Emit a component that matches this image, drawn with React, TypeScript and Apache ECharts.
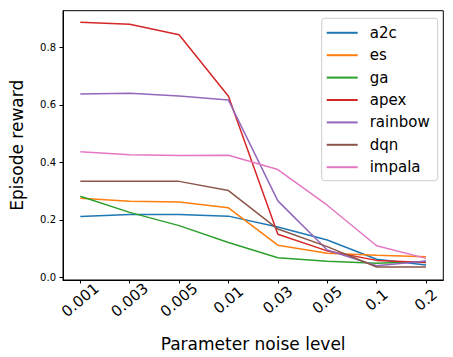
import React, { useEffect, useRef } from "react";
import * as echarts from "echarts";

const categories = ["0.001", "0.003", "0.005", "0.01", "0.03", "0.05", "0.1", "0.2"];
const yTicks = [0, 0.2, 0.4, 0.6, 0.8];

const a2c = [0.212, 0.219, 0.219, 0.213, 0.175, 0.13, 0.063, 0.043];
const es = [0.275, 0.265, 0.262, 0.242, 0.112, 0.084, 0.077, 0.072];
const ga = [0.282, 0.226, 0.18, 0.121, 0.068, 0.056, 0.049, 0.055];
const apex = [0.888, 0.881, 0.844, 0.63, 0.15, 0.092, 0.059, 0.052];
const rainbow = [0.638, 0.641, 0.631, 0.617, 0.266, 0.095, 0.04, 0.057];
const dqn = [0.334, 0.334, 0.334, 0.302, 0.168, 0.107, 0.036, 0.036];
const impala = [0.437, 0.427, 0.424, 0.425, 0.375, 0.251, 0.11, 0.066];

const seriesNames = ["a2c", "es", "ga", "apex", "rainbow", "dqn", "impala"];
const seriesValues = [a2c, es, ga, apex, rainbow, dqn, impala];
const colors = ["#1f77b4", "#ff7f0e", "#2ca02c", "#d62728", "#9467bd", "#8c564b", "#e377c2"];

const FONT = "DejaVu Sans";

export default function App() {
  const ref = useRef<HTMLDivElement>(null);
  useEffect(() => {
    if (!ref.current) return;
    const chart = echarts.init(ref.current, null, { renderer: "svg" });
    const idx = categories.map((_, i) => i);
    chart.setOption({
      animation: false,
      color: colors,
      textStyle: { fontFamily: FONT },
      grid: {
        left: 52.3,
        right: 9.7,
        top: 10.7,
        bottom: 75,
        show: true,
        borderColor: "#000",
        borderWidth: 1,
        backgroundColor: "transparent",
      },
      legend: {
        orient: "vertical",
        left: 321.7,
        top: 18.3,
        data: seriesNames,
        icon: "rect",
        itemWidth: 31,
        itemHeight: 2,
        itemGap: 7.4,
        padding: [7, 8, 6, 5],
        backgroundColor: "rgba(255,255,255,0.8)",
        borderColor: "#ccc",
        borderWidth: 1,
        borderRadius: 3,
        textStyle: {
          fontFamily: FONT,
          fontSize: 15,
          color: "#000",
          padding: [0, 0, 0, 7],
        },
      },
      xAxis: {
        type: "value",
        min: -0.35,
        max: 7.35,
        splitLine: { show: false },
        axisLine: { show: true, onZero: false, lineStyle: { color: "#000", width: 1 } },
        axisTick: { show: true, customValues: idx, length: 3.5, lineStyle: { color: "#000" } },
        axisLabel: {
          customValues: idx,
          formatter: (v: number) => categories[Math.round(v)],
          rotate: 40,
          align: "center",
          verticalAlign: "middle",
          margin: 20,
          fontSize: 15,
          fontFamily: FONT,
          color: "#000",
        },
        name: "Parameter noise level",
        nameLocation: "middle",
        nameGap: 55,
        nameTextStyle: { fontSize: 17, fontFamily: FONT, color: "#000" },
      },
      yAxis: {
        type: "value",
        min: -0.0093,
        max: 0.928,
        splitLine: { show: false },
        axisLine: { show: true, onZero: false, lineStyle: { color: "#000", width: 1 } },
        axisTick: { show: true, customValues: yTicks, length: 3.5, lineStyle: { color: "#000" } },
        axisLabel: {
          customValues: yTicks,
          formatter: (v: number) => v.toFixed(1),
          fontSize: 10,
          margin: 7,
          fontFamily: FONT,
          color: "#000",
        },
        name: "Episode reward",
        nameLocation: "middle",
        nameGap: 38,
        nameRotate: 90,
        nameTextStyle: { fontSize: 17, fontFamily: FONT, color: "#000" },
      },
      series: seriesNames.map((name, s) => ({
        name,
        type: "line",
        symbol: "none",
        lineStyle: { width: 1.5, color: colors[s] },
        itemStyle: { color: colors[s] },
        data: seriesValues[s].map((v, i) => [i, v]),
      })),
    });
    return () => chart.dispose();
  }, []);
  return (
    <div
      ref={ref}
      style={{ position: "fixed", left: 0, top: 0, width: 453, height: 357, background: "#fff" }}
    />
  );
}
